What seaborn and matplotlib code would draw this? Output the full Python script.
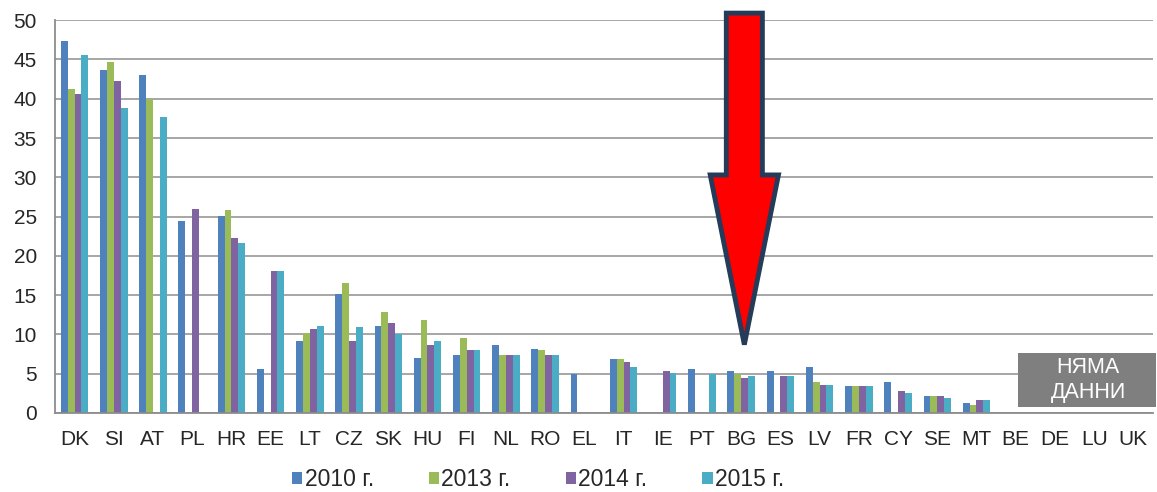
import numpy as np
import pandas as pd
import seaborn as sns
import matplotlib.pyplot as plt
from matplotlib.patches import Polygon, Rectangle

# values (nan = no bar)
countries = ["DK", "SI", "AT", "PL", "HR", "EE", "LT", "CZ", "SK", "HU", "FI", "NL", "RO", "EL",
             "IT", "IE", "PT", "BG", "ES", "LV", "FR", "CY", "SE", "MT", "BE", "DE", "LU", "UK"]
nan = np.nan
v2010 = [47.3, 43.6, 43.0, 24.4, 25.1, 5.6, 9.1, 15.2, 11.1, 7.0, 7.4, 8.7, 8.2, 5.0,
         6.9, nan, 5.6, 5.4, 5.4, 5.9, 3.4, 3.9, 2.1, 1.3, nan, nan, nan, nan]
v2013 = [41.2, 44.7, 40.0, nan, 25.8, nan, 10.2, 16.6, 12.8, 11.8, 9.5, 7.4, 8.0, nan,
         6.9, nan, nan, 5.0, nan, 3.9, 3.4, nan, 2.1, 1.0, nan, nan, nan, nan]
v2014 = [40.6, 42.3, nan, 26.0, 22.3, 18.1, 10.7, 9.1, 11.4, 8.7, 8.0, 7.4, 7.4, nan,
         6.5, 5.4, nan, 4.5, 4.7, 3.6, 3.4, 2.8, 2.1, 1.7, nan, nan, nan, nan]
v2015 = [45.6, 38.8, 37.7, nan, 21.6, 18.1, 11.1, 10.9, 10.1, 9.1, 8.0, 7.4, 7.4, nan,
         5.8, 5.1, 5.0, 4.7, 4.7, 3.6, 3.4, 2.5, 1.9, 1.7, nan, nan, nan, nan]
years = ["2010 г.", "2013 г.", "2014 г.", "2015 г."]
colors = ["#4f81bd", "#9bbb59", "#8064a2", "#4bacc6"]

df = pd.DataFrame({"country": countries, years[0]: v2010, years[1]: v2013,
                   years[2]: v2014, years[3]: v2015})
long = df.melt(id_vars="country", var_name="year", value_name="value").dropna()

sns.set_style("white")
plt.rcParams["font.family"] = ["Liberation Sans", "DejaVu Sans"]

fig = plt.figure(figsize=(11.57, 4.92), dpi=100)
ax = fig.add_axes([0.0475, 0.1606, 0.949, 0.7984])

sns.barplot(data=long, x="country", y="value", hue="year", order=countries,
            hue_order=years, palette=colors, saturation=1, width=0.7, errorbar=None,
            linewidth=0, ax=ax)

ax.set_ylim(0, 50)
ax.set_xlim(-0.5, len(countries) - 0.5)
ax.set_yticks(range(0, 51, 5))
ax.yaxis.grid(True, color="#a6a6a6", linewidth=1.4)
ax.set_axisbelow(True)
ax.set_xlabel("")
ax.set_ylabel("")
for s in ["top", "right"]:
    ax.spines[s].set_visible(False)
for s in ["left", "bottom"]:
    ax.spines[s].set_color("#8c8c8c")
    ax.spines[s].set_linewidth(1.3)
ax.tick_params(axis="y", length=5, width=1.2, color="#8c8c8c", labelsize=15, pad=8)
ax.tick_params(axis="x", which="major", length=0, labelsize=15, pad=12)
ax.set_xticks(np.arange(-0.5, len(countries)), minor=True)
ax.tick_params(axis="x", which="minor", length=6, width=1.2, color="#8c8c8c")

leg = ax.legend(loc="center", bbox_to_anchor=(0.44, -0.17), ncol=4, frameon=False,
                fontsize=16.5, handlelength=0.45, handleheight=0.45, handletextpad=0.1,
                columnspacing=2.4, borderaxespad=0, borderpad=0)

# "no data" box
ax.add_patch(Rectangle((24.07, 0.76), 3.5, 6.85, facecolor="#7f7f7f", edgecolor="none",
                       clip_on=False, zorder=5))
ax.text(25.85, 4.2, "НЯМА\nДАННИ", color="white", fontsize=15.5, ha="center", va="center",
        linespacing=1.2, zorder=6)

# red arrow pointing at BG
xc = countries.index("BG") + 0.08
arrow = [(xc - 0.46, 50.9), (xc + 0.46, 50.9), (xc + 0.46, 30.3), (xc + 0.87, 30.3),
         (xc, 8.7), (xc - 0.87, 30.3), (xc - 0.46, 30.3)]
ax.add_patch(Polygon(arrow, closed=True, facecolor="#ff0000", edgecolor="#243b5a",
                     linewidth=3.5, joinstyle="miter", clip_on=False, zorder=7))

fig.savefig("out.png", dpi=100)
